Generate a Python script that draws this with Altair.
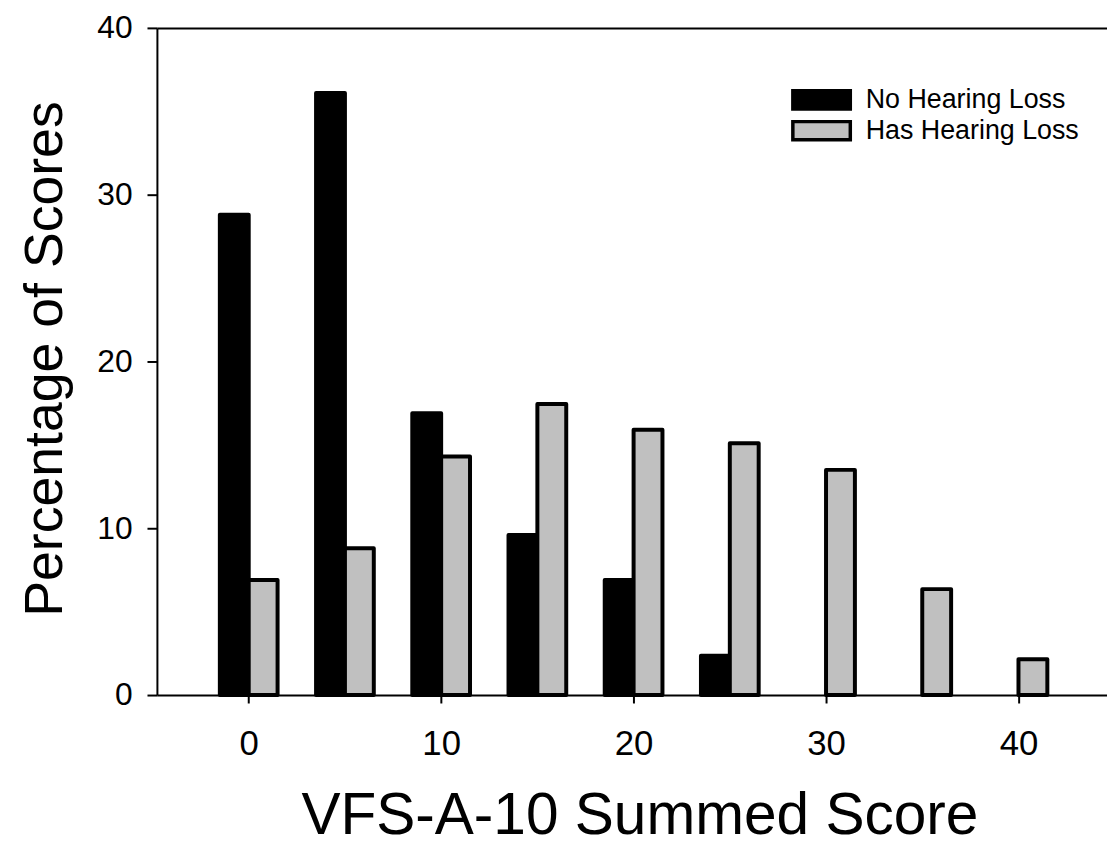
import altair as alt
import pandas as pd

scores = [0, 5, 10, 15, 20, 25, 30, 35, 40]
no_loss = [28.8, 36.1, 16.9, 9.6, 6.9, 2.35, 0, 0, 0]
has_loss = [6.9, 8.8, 14.3, 17.45, 15.9, 15.1, 13.5, 6.35, 2.15]
groups = ["No Hearing Loss", "Has Hearing Loss"]
colors = ["#000000", "#c0c0c0"]
x_ticks = [0, 10, 20, 30, 40]
y_ticks = [0, 10, 20, 30, 40]

rows = []
for s, v in zip(scores, no_loss):
    rows.append({"score": s, "pct": v, "group": groups[0], "order": 0})
for s, v in zip(scores, has_loss):
    rows.append({"score": s, "pct": v, "group": groups[1], "order": 1})
df = pd.DataFrame(rows)

FONT = "Liberation Sans"
xdom = [-4.77, 44.6]

bars = alt.Chart(df).transform_filter(
    "datum.pct > 0"
).transform_calculate(
    x0="datum.score + (datum.order == 0 ? -1.5 : 0)",
    x1="datum.score + (datum.order == 0 ? 0 : 1.5)",
).mark_bar(stroke="black", strokeWidth=4, strokeJoin="round").encode(
    x=alt.X("x0:Q", scale=alt.Scale(domain=xdom, nice=False, zero=False),
            axis=alt.Axis(values=x_ticks, title="VFS-A-10 Summed Score", grid=False,
                          tickSize=8, tickWidth=2, domainWidth=2, labelPadding=24,
                          labelFontSize=35, titleFontSize=59, titleFontWeight="normal",
                          titleBaseline="alphabetic", titleY=139, titleX=486)),
    x2="x1:Q",
    y=alt.Y("pct:Q", scale=alt.Scale(domain=[0, 40], nice=False),
            axis=alt.Axis(values=y_ticks, title="Percentage of Scores", grid=False,
                          tickSize=10, tickWidth=2, domainWidth=2, labelPadding=15,
                          labelFontSize=32, titleFontSize=54, titleFontWeight="normal",
                          titleBaseline="alphabetic", titleX=-96, titleY=333)),
    y2=alt.datum(0),
    fill=alt.Fill("group:N", scale=alt.Scale(domain=groups, range=colors),
                  legend=alt.Legend(title=None, orient="none", legendX=655, legendY=58,
                                    padding=0, symbolType="M-2.27,-0.714L2.27,-0.714L2.27,0.714L-2.27,0.714Z",
                                    symbolSize=650, symbolStrokeColor="black",
                                    symbolStrokeWidth=3.5, labelFontSize=27, labelOffset=30,
                                    labelLimit=0, rowPadding=-3, labelColor="black",
                                    labelFont=FONT)),
    order=alt.Order("order:Q"),
)

topline = alt.Chart(df).mark_rule(opacity=0).encode(
    x=alt.X("score:Q", scale=alt.Scale(domain=xdom, nice=False, zero=False),
            axis=alt.Axis(orient="top", labels=False, ticks=False, title=None, grid=False,
                          domainWidth=2, domainColor="black")),
)

chart = alt.layer(bars, topline).resolve_axis(x="independent").properties(
    width=957, height=672,
    autosize=alt.AutoSizeParams(type="none"),
    padding={"left": 150, "top": 17, "right": 0, "bottom": 148},
).configure_view(stroke=None).configure_axis(
    domainColor="black", tickColor="black", labelColor="black", titleColor="black",
    labelFont=FONT, titleFont=FONT,
).configure_legend(labelFont=FONT)

chart.save("out.html", embed_options={"renderer": "svg", "actions": False})
